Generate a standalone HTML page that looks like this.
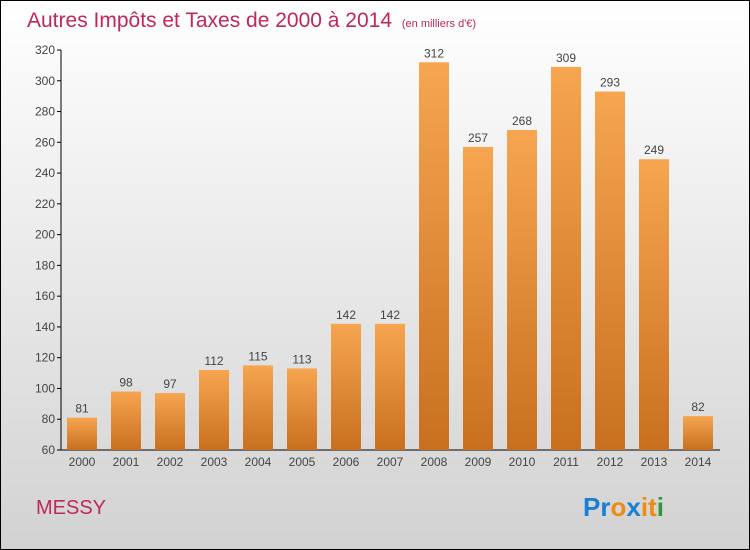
<!DOCTYPE html>
<html><head><meta charset="utf-8"><style>
body{margin:0}
svg{display:block;font-family:"Liberation Sans","DejaVu Sans",sans-serif}
</style></head><body>
<svg width="750" height="550">
<defs>
<linearGradient id="bg" x1="0" y1="0" x2="0" y2="1"><stop offset="0" stop-color="#ffffff"/><stop offset="1" stop-color="#d2d2d2"/></linearGradient>
<linearGradient id="bar" x1="0" y1="0" x2="0" y2="1"><stop offset="0" stop-color="#f7a550"/><stop offset="1" stop-color="#c8701e"/></linearGradient>
</defs>
<rect x="0.5" y="0.5" width="749" height="549" fill="url(#bg)" stroke="#000"/>
<text x="27" y="27" font-size="21" fill="#c0275a">Autres Impôts et Taxes de 2000 à 2014 <tspan font-size="11" dx="4">(en milliers d'€)</tspan></text>
<g id="axes"></g>
<g id="bars"></g>
<text x="36" y="514" font-size="20" fill="#c0275a">MESSY</text>
<text x="583" y="516" font-size="26" font-weight="bold"><tspan fill="#1a7fd4">Pr</tspan><tspan fill="#f08a10">o</tspan><tspan fill="#1a7fd4">x</tspan><tspan fill="#f08a10">i</tspan><tspan fill="#f08a10">t</tspan><tspan fill="#2a9a3a">i</tspan></text>
</svg>
<script>
const years=["2000","2001","2002","2003","2004","2005","2006","2007","2008","2009","2010","2011","2012","2013","2014"];
const values=[81,98,97,112,115,113,142,142,312,257,268,309,293,249,82];
const ticks=[60,80,100,120,140,160,180,200,220,240,260,280,300,320];
const NS="http://www.w3.org/2000/svg";
const y=v=>450-(v-60)*400/260;
const x=i=>82+i*44;
const ax=document.getElementById('axes'),bg=document.getElementById('bars');
function mk(t,a,p,txt){const e=document.createElementNS(NS,t);for(const k in a)e.setAttribute(k,a[k]);if(txt!=null)e.textContent=txt;p.appendChild(e);return e;}
let l=mk('line',{x1:61,y1:50,x2:61,y2:450,stroke:'#000'},ax);


l=mk('line',{x1:61,y1:450,x2:720,y2:450,stroke:'#000'},ax);


ticks.forEach(t=>{
 const tk=mk('line',{x1:57,y1:y(t),x2:61,y2:y(t),stroke:'#000'},ax);
 
 
 const tl=mk('text',{x:55,y:y(t)+4,'font-size':12,fill:'#444','text-anchor':'end'},ax,t);
 
 
});
years.forEach((yr,i)=>{
 const r=mk('rect',{x:x(i)-15,y:y(values[i]),width:30,height:450-y(values[i]),fill:'url(#bar)'},bg);
 
 
 const v=mk('text',{x:x(i),y:y(values[i])-5,'font-size':12,fill:'#444','text-anchor':'middle'},bg,values[i]);
 
 
 const xl=mk('text',{x:x(i),y:466,'font-size':12,fill:'#444','text-anchor':'middle'},bg,yr);
 
 
});
</script>
</body></html>
